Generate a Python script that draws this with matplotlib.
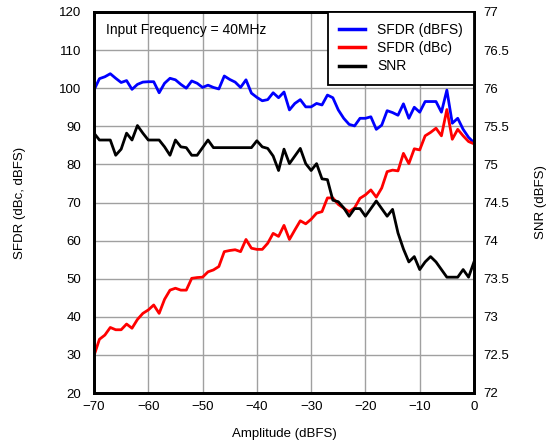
import matplotlib
matplotlib.use("Agg")
import matplotlib.pyplot as plt
import numpy as np

plt.rcParams['font.family'] = ['Liberation Sans', 'DejaVu Sans']

amplitude = list(range(-70, 1))

sfdr_dbfs = [99.5, 102.5, 103.0, 103.8, 102.6, 101.5, 102.0, 99.7, 101.0, 101.6,
             101.7, 101.7, 98.8, 101.3, 102.6, 102.2, 101.0, 100.0, 101.9, 101.3,
             100.2, 100.8, 100.2, 99.8, 103.2, 102.3, 101.6, 100.2, 102.2, 98.7,
             97.6, 96.7, 97.0, 98.8, 97.5, 99.0, 94.3, 96.0, 97.0, 95.1,
             95.1, 96.0, 95.6, 98.2, 97.5, 94.3, 92.1, 90.5, 90.1, 92.1,
             92.1, 92.5, 89.2, 90.3, 94.1, 93.6, 92.9, 95.9, 92.1, 95.0,
             93.7, 96.5, 96.5, 96.5, 93.7, 99.5, 90.8, 92.1, 89.2, 87.1,
             85.7]

sfdr_dbc = [29.8, 34.1, 35.2, 37.2, 36.6, 36.6, 38.1, 37.0, 39.3, 40.9,
            41.8, 43.1, 40.9, 44.6, 47.0, 47.5, 47.0, 47.0, 50.1, 50.3,
            50.4, 51.8, 52.3, 53.2, 57.1, 57.4, 57.6, 57.1, 60.3, 58.0,
            57.7, 57.7, 59.3, 61.9, 61.1, 64.0, 60.3, 62.8, 65.2, 64.4,
            65.6, 67.2, 67.6, 71.2, 71.2, 69.5, 68.5, 67.6, 68.6, 71.1,
            72.0, 73.3, 71.4, 73.8, 78.1, 78.5, 78.3, 82.9, 80.2, 84.1,
            83.8, 87.5, 88.4, 89.5, 87.5, 94.4, 86.6, 89.2, 87.5, 86.0,
            85.4]

snr = [75.41, 75.32, 75.32, 75.32, 75.12, 75.20, 75.41, 75.32, 75.51, 75.41,
       75.32, 75.32, 75.32, 75.23, 75.12, 75.32, 75.23, 75.22, 75.12, 75.12,
       75.22, 75.32, 75.22, 75.22, 75.22, 75.22, 75.22, 75.22, 75.22, 75.22,
       75.31, 75.23, 75.21, 75.11, 74.92, 75.20, 75.01, 75.11, 75.21, 75.01,
       74.92, 75.01, 74.81, 74.80, 74.53, 74.51, 74.43, 74.32, 74.42, 74.42,
       74.32, 74.42, 74.52, 74.42, 74.32, 74.41, 74.10, 73.89, 73.72, 73.79,
       73.62, 73.72, 73.79, 73.72, 73.62, 73.52, 73.52, 73.52, 73.62, 73.52,
       73.72]

fig = plt.figure(figsize=(5.49, 4.41), dpi=100)
ax = fig.add_axes([94/549, 1-393/441, 380/549, 381/441])
ax2 = ax.twinx()

l1, = ax.plot(amplitude, sfdr_dbfs, color='#0000ff', lw=2.0, label='SFDR (dBFS)')
l2, = ax.plot(amplitude, sfdr_dbc, color='#ff0000', lw=2.0, label='SFDR (dBc)')
l3, = ax2.plot(amplitude, snr, color='#000000', lw=2.0, label='SNR')

ax.set_xlim(-70, 0)
ax.set_ylim(20, 120)
ax2.set_ylim(72, 77)
ax.set_xticks(np.arange(-70, 1, 10))
ax.set_yticks(np.arange(20, 121, 10))
ax2.set_yticks(np.arange(72, 77.01, 0.5))
ax2.set_yticklabels(['72', '72.5', '73', '73.5', '74', '74.5', '75', '75.5', '76', '76.5', '77'])

ax.grid(True, color='#a0a0a0', lw=1.0)
ax.set_axisbelow(True)

for a in (ax, ax2):
    for s in a.spines.values():
        s.set_linewidth(2.0)
        s.set_color('black')

ax.tick_params(axis='x', length=0, pad=6, labelsize=9.5)
ax.tick_params(axis='y', length=0, pad=9, labelsize=9.5)
ax2.tick_params(axis='y', length=0, pad=7, labelsize=9.5)

ax.set_xlabel('Amplitude (dBFS)', fontsize=9.5, va='center')
ax.xaxis.set_label_coords(0.5, -0.108)
ax.set_ylabel('SFDR (dBc, dBFS)', fontsize=9.5, va='center')
ax.yaxis.set_label_coords(-0.195, 0.5)
ax2.set_ylabel('SNR (dBFS)', fontsize=9.5, va='center', rotation=90)
ax2.yaxis.set_label_coords(1.176, 0.5)

ax.text((106-94)/380, (393-30)/381, 'Input Frequency = 40MHz', transform=ax.transAxes,
        fontsize=10, ha='left', va='center')

leg = ax2.legend(handles=[l1, l2, l3], loc='upper right', bbox_to_anchor=(1.0, 1.0),
                 borderaxespad=0, fontsize=10, frameon=True, fancybox=False,
                 handlelength=1.9, handletextpad=0.85, labelspacing=0.3,
                 borderpad=0.8, framealpha=1)
leg.get_frame().set_edgecolor('black')
leg.get_frame().set_linewidth(1.3)
for line in leg.get_lines():
    line.set_linewidth(2.5)

fig.savefig('out.png', dpi=100)
